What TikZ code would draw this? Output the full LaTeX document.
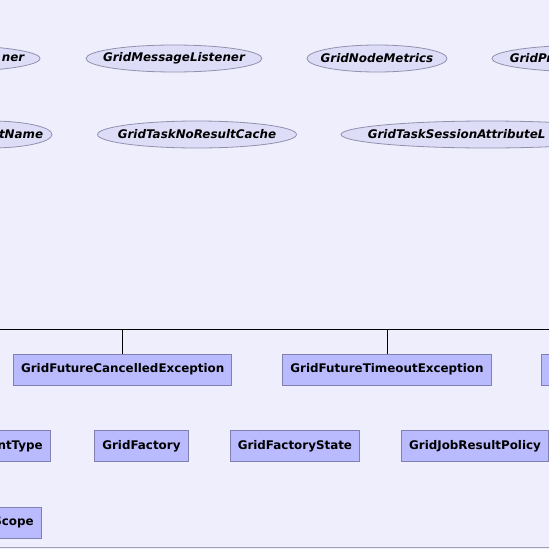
\documentclass[tikz,border=0pt]{standalone}
\usepackage{fontspec}
\setmainfont{DejaVu Sans}
\usetikzlibrary{shapes.geometric}

\definecolor{bgcol}{RGB}{239,238,253}
\definecolor{ifacefill}{RGB}{221,221,248}
\definecolor{ifaceline}{RGB}{145,145,175}
\definecolor{clsfill}{RGB}{186,186,254}
\definecolor{clsline}{RGB}{128,128,178}
\definecolor{frameline}{RGB}{160,160,176}

\tikzset{
  iface/.style={shape=ellipse,draw=ifaceline,fill=ifacefill,inner sep=0pt,minimum height=27pt,line width=0.8pt},
  ifacetext/.style={font=\fontsize{11.9}{14}\selectfont\bfseries\itshape,inner sep=0pt},
  cls/.style={shape=rectangle,draw=clsline,fill=clsfill,minimum height=31pt,inner xsep=7.5pt,line width=0.9pt,
    font=\fontsize{11.9}{14}\selectfont\bfseries},
  bus/.style={draw=black,line width=1pt}
}

\begin{document}
\begin{tikzpicture}[x=1pt,y=-1pt]
\useasboundingbox (0,0) rectangle (549,549);
\fill[bgcol] (0,0) rectangle (549,549);
\clip (0,0) rectangle (549,549);

% interfaces
\node[iface,minimum width=200pt,label={[ifacetext,anchor=east,xshift=-16pt]east:ner}] (lsn) at (-60,58.5) {};
\node[iface,minimum width=176pt,label={[ifacetext]center:GridMessageListener}] (msg) at (174,58.5) {};
\node[iface,minimum width=140pt,label={[ifacetext]center:GridNodeMetrics}] (met) at (377,58.5) {};
\node[iface,minimum width=200pt,label={[ifacetext,anchor=west,xshift=18pt]west:GridPr}] (prd) at (592,58.5) {};

\node[iface,minimum width=122pt,label={[ifacetext,anchor=east,xshift=-9pt]east:tName}] (tnm) at (-9,134.5) {};
\node[iface,minimum width=199pt,label={[ifacetext]center:GridTaskNoResultCache}] (nrc) at (197,134.5) {};
\node[iface,minimum width=293pt,label={[ifacetext,anchor=west,xshift=27pt]west:GridTaskSessionAttributeL}] (sal) at (487.5,134.5) {};

% exceptions
\coordinate (busw) at (-5,329);
\coordinate (buse) at (555,329);
\node[cls] (fce) at (122.7,369.5) {GridFutureCancelledException};
\node[cls] (fte) at (387,369.5) {GridFutureTimeoutException};
\node[cls,text width=80pt,align=left,anchor=west] (nxt) at (541,369.5) {G};

\draw[bus] (busw) -- (buse);
\draw[bus] (fce.north) -- (fce.north |- busw);
\draw[bus] (fte.north) -- (fte.north |- busw);

% enums
\node[cls,text width=80pt,align=right,anchor=east] (evt) at (50.7,446) {ntType};
\node[cls] (fac) at (141.4,446) {GridFactory};
\node[cls] (fst) at (294.9,446) {GridFactoryState};
\node[cls] (jrp) at (475,446) {GridJobResultPolicy};

\node[cls,text width=80pt,align=right,anchor=east] (scp) at (41.7,522.5) {Scope};

\coordinate (framew) at (-5,547.7);
\coordinate (framee) at (555,547.7);
\draw[frameline,line width=1pt] (framew) -- (framee);
\end{tikzpicture}
\end{document}
